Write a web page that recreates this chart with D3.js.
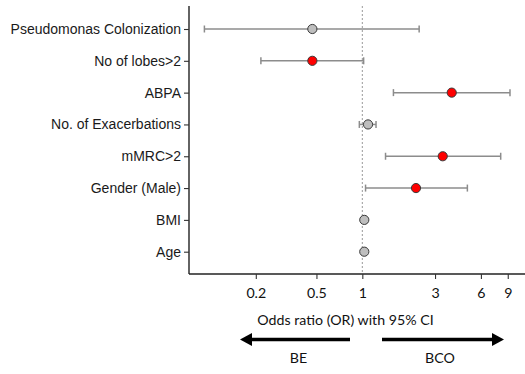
<!DOCTYPE html>
<html>
<head>
<meta charset="utf-8">
<script src="https://cdn.jsdelivr.net/npm/d3@7"></script>
<style>
  html, body { margin: 0; padding: 0; background: #fff; }
  svg { display: block; }
</style>
</head>
<body>
<svg id="chart" width="525" height="374"></svg>
<script>
// ---- data ----
const categories = ["Pseudomonas Colonization", "No of lobes>2", "ABPA", "No. of Exacerbations",
                    "mMRC>2", "Gender (Male)", "BMI", "Age"];
const oddsRatio = [0.47, 0.47, 3.86, 1.09, 3.37, 2.25, 1.03, 1.03];
const ciLower   = [0.092, 0.216, 1.60, 0.956, 1.42, 1.05, 1.00, 1.01];
const ciUpper   = [2.36, 1.02, 9.31, 1.23, 8.09, 4.89, 1.07, 1.05];
const significant = [false, true, true, false, true, true, false, false];
const tickValues = [0.2, 0.5, 1, 3, 6, 9];
const tickLabels = ["0.2", "0.5", "1", "3", "6", "9"];
const axisTitle = "Odds ratio (OR) with 95% CI";
const leftLabel = "BE";
const rightLabel = "BCO";

const rows = categories.map((c, i) => ({
  cat: c, or: oddsRatio[i], lo: ciLower[i], hi: ciUpper[i], sig: significant[i]
}));

const svg = d3.select("#chart");
const pLeft = 189, pRight = 525, pTop = 6, pBottom = 274;
const bottomFont = "Lato, Carlito, sans-serif";
const bottomSize = 14.2;

const x = d3.scaleLog().domain([0.0729, 11.68]).range([pLeft, pRight]);
const y = d3.scalePoint().domain(categories).range([29, 251.7]);

// reference line at OR = 1
svg.append("line")
  .attr("x1", x(1)).attr("x2", x(1))
  .attr("y1", pTop).attr("y2", pBottom)
  .attr("stroke", "#9a9a9a").attr("stroke-width", 1)
  .attr("stroke-dasharray", "2,2");

// error bars
const capH = 3.5;
const eb = svg.append("g").attr("stroke", "#8c8c8c").attr("stroke-width", 1.5).attr("fill", "none");
rows.forEach(d => {
  const yy = y(d.cat);
  eb.append("line").attr("x1", x(d.lo)).attr("x2", x(d.hi)).attr("y1", yy).attr("y2", yy);
  eb.append("line").attr("x1", x(d.lo)).attr("x2", x(d.lo)).attr("y1", yy - capH).attr("y2", yy + capH);
  eb.append("line").attr("x1", x(d.hi)).attr("x2", x(d.hi)).attr("y1", yy - capH).attr("y2", yy + capH);
});

// points
svg.append("g").selectAll("circle").data(rows).join("circle")
  .attr("cx", d => x(d.or)).attr("cy", d => y(d.cat)).attr("r", 4.6)
  .attr("fill", d => d.sig ? "#ff0000" : "#bebebe")
  .attr("stroke", "#3a3a3a").attr("stroke-width", 1);

// y axis
const yAxis = svg.append("g").attr("transform", `translate(${pLeft},0)`)
  .call(d3.axisLeft(y).tickSize(5).tickPadding(3));
yAxis.select(".domain").attr("d", `M0,${pTop}V${pBottom}`).attr("stroke", "#222").attr("stroke-width", 1.4);
yAxis.selectAll(".tick line").attr("stroke", "#333").attr("stroke-width", 1.1);
yAxis.selectAll(".tick text")
  .attr("font-family", "Liberation Sans, Arial, sans-serif")
  .attr("font-size", 14).attr("fill", "#1a1a1a");

// x axis
const xAxis = svg.append("g").attr("transform", `translate(0,${pBottom})`)
  .call(d3.axisBottom(x).tickValues(tickValues).tickFormat((d, i) => tickLabels[i]).tickSize(5).tickPadding(9));
xAxis.select(".domain").attr("d", `M${pLeft},0H${pRight}`).attr("stroke", "#222").attr("stroke-width", 1.4);
xAxis.selectAll(".tick line").attr("stroke", "#333").attr("stroke-width", 1.1);
xAxis.selectAll(".tick text")
  .attr("font-family", bottomFont)
  .attr("font-size", bottomSize).attr("fill", "#111");

// axis title
svg.append("text")
  .attr("x", 345.5).attr("y", 325)
  .attr("text-anchor", "middle")
  .attr("font-family", bottomFont)
  .attr("font-size", bottomSize).attr("fill", "#111")
  .text(axisTitle);

// arrows
function arrow(x1, x2, yy) {
  const dir = Math.sign(x2 - x1);
  const headL = 12, headW = 6.5;
  svg.append("line")
    .attr("x1", x1).attr("x2", x2 - dir * headL + dir * 1)
    .attr("y1", yy).attr("y2", yy)
    .attr("stroke", "#000").attr("stroke-width", 3.5);
  svg.append("path")
    .attr("d", `M${x2},${yy} L${x2 - dir * headL},${yy - headW} L${x2 - dir * headL},${yy + headW} Z`)
    .attr("fill", "#000");
}
arrow(350, 240, 339.5);
arrow(382, 504, 339.5);

svg.append("text").attr("x", 298.5).attr("y", 363).attr("text-anchor", "middle")
  .attr("font-family", bottomFont).attr("font-size", bottomSize).attr("fill", "#111")
  .text(leftLabel);
svg.append("text").attr("x", 440).attr("y", 363).attr("text-anchor", "middle")
  .attr("font-family", bottomFont).attr("font-size", bottomSize).attr("fill", "#111")
  .text(rightLabel);
</script>
</body>
</html>
